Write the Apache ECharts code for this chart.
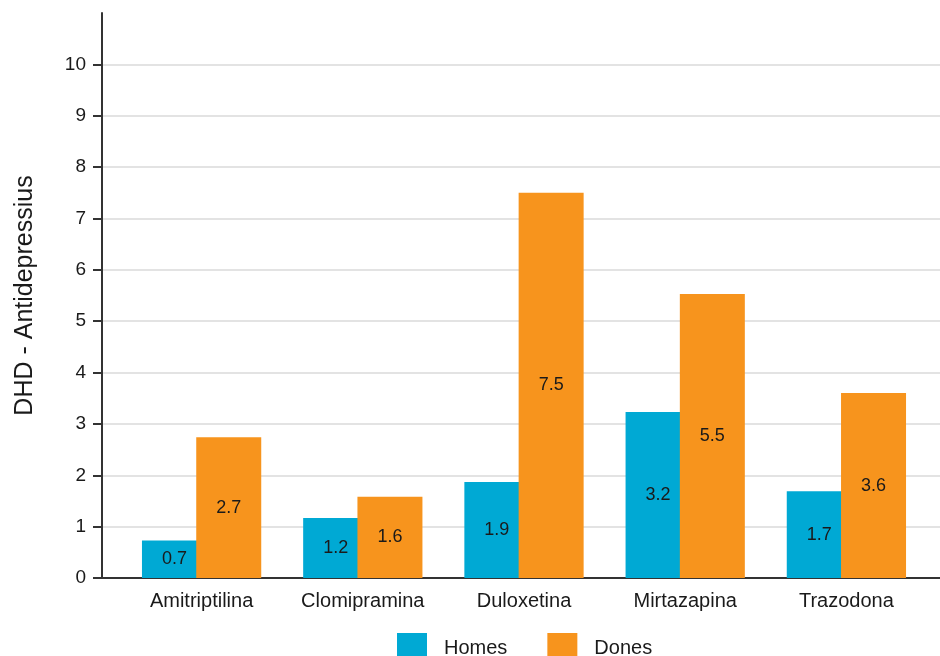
<!DOCTYPE html>
<html>
<head>
<meta charset="utf-8">
<title>DHD - Antidepressius</title>
<script src="https://cdn.jsdelivr.net/npm/echarts@6/dist/echarts.min.js"></script>
<style>
  html, body { margin: 0; padding: 0; background: #fff; }
  #chart { width: 940px; height: 656px; }
</style>
</head>
<body>
<div id="chart"></div>
<script>
// dades llegides del gràfic
const categories = ["Amitriptilina", "Clomipramina", "Duloxetina", "Mirtazapina", "Trazodona"];
const homes = [0.73, 1.17, 1.87, 3.23, 1.69];
const dones = [2.74, 1.58, 7.5, 5.53, 3.6];
const yTicks = [0, 1, 2, 3, 4, 5, 6, 7, 8, 9, 10];

const FONT = "Liberation Sans, Arial, sans-serif";
const TEXT = "#1a1a1a";
const AXIS = "#333333";
const GRID_LINE = "#e3e3e3";
const BLUE = "#00a9d4";
const ORANGE = "#f7941d";

const Y_MAX = 11;

const barLabel = {
  show: true,
  position: "inside",
  color: TEXT,
  fontFamily: FONT,
  fontSize: 18,
  formatter: (p) => p.value.toFixed(1),
};

const chart = echarts.init(document.getElementById("chart"), null, { renderer: "canvas" });

chart.setOption({
  animation: false,
  backgroundColor: "#fff",
  textStyle: { fontFamily: FONT, color: TEXT },
  legend: {
    data: ["Homes", "Dones"],
    left: 397,
    top: 633,
    padding: 0,
    itemWidth: 30,
    itemHeight: 30,
    itemGap: 40,
    icon: "rect",
    textStyle: { fontFamily: FONT, fontSize: 20, color: TEXT, padding: [0, 0, 0, 12] },
  },
  // grid 0: eix Y, línies de quadrícula i línia de l'eix X (amplada completa)
  // grid 1: barres i etiquetes de categoria
  grid: [
    { left: 102, right: 0, top: 13, bottom: 78, outerBoundsMode: "none" },
    { left: 121, right: 13, top: 13, bottom: 78, outerBoundsMode: "none" },
  ],
  xAxis: [
    {
      gridIndex: 0,
      type: "value",
      min: 0,
      max: 1,
      axisLine: { show: true, onZero: false, lineStyle: { color: AXIS, width: 2 } },
      axisTick: { show: false },
      axisLabel: { show: false },
      splitLine: { show: false },
    },
    {
      gridIndex: 1,
      type: "category",
      data: categories,
      axisLine: { show: false },
      axisTick: { show: false },
      axisLabel: { color: TEXT, fontFamily: FONT, fontSize: 20, margin: 13 },
    },
  ],
  yAxis: [
    {
      gridIndex: 0,
      type: "value",
      min: 0,
      max: Y_MAX,
      interval: 1,
      name: "DHD - Antidepressius",
      nameLocation: "middle",
      nameRotate: 90,
      nameGap: 64,
      nameTextStyle: { fontFamily: FONT, fontSize: 25, color: TEXT },
      axisLine: { show: true, lineStyle: { color: AXIS, width: 2 } },
      axisTick: { show: true, length: 9, customValues: yTicks, lineStyle: { color: AXIS, width: 2 } },
      axisLabel: {
        customValues: yTicks,
        color: TEXT,
        fontFamily: FONT,
        fontSize: 19,
        margin: 16,
        formatter: (v) => (v > 10 ? "" : String(v)),
      },
      splitLine: { show: true, showMinLine: false, showMaxLine: true, lineStyle: { color: GRID_LINE, width: 2 } },
    },
    {
      gridIndex: 1,
      type: "value",
      min: 0,
      max: Y_MAX,
      show: false,
      splitLine: { show: false },
    },
  ],
  series: [
    {
      name: "Homes",
      type: "bar",
      xAxisIndex: 1,
      yAxisIndex: 1,
      data: homes,
      barWidth: 65,
      barGap: "-16.5%",
      itemStyle: { color: BLUE },
      label: barLabel,
    },
    {
      name: "Dones",
      type: "bar",
      xAxisIndex: 1,
      yAxisIndex: 1,
      data: dones,
      barWidth: 65,
      barGap: "-16.5%",
      itemStyle: { color: ORANGE },
      label: barLabel,
    },
  ],
});
</script>
</body>
</html>
